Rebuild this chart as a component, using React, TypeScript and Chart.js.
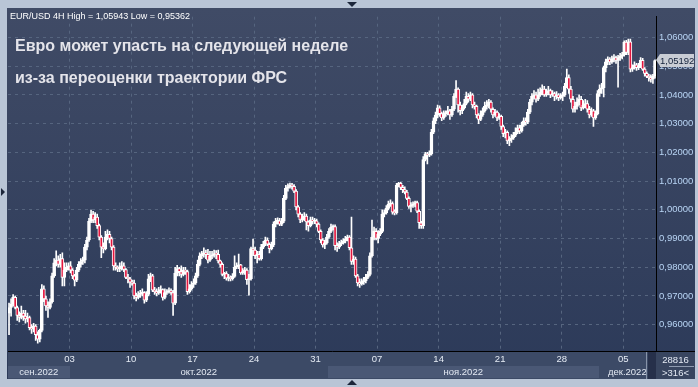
import React, { useEffect, useRef } from 'react';
import { Chart, registerables } from 'chart.js';

Chart.register(...registerables);

// ---------- data: EUR/USD 4H candles (26 Sep – 07 Dec 2022) ----------
const opens = [
  0.9640, 0.9660, 0.9672, 0.9695, 0.9660, 0.9632, 0.9625, 0.9640, 0.9630, 0.9620,
  0.9625, 0.9590, 0.9585, 0.9595, 0.9565, 0.9550, 0.9580, 0.9725, 0.9690, 0.9665,
  0.9660, 0.9680, 0.9770, 0.9815, 0.9825, 0.9810, 0.9830, 0.9765, 0.9790, 0.9800,
  0.9805, 0.9790, 0.9770, 0.9755, 0.9790, 0.9810, 0.9820, 0.9825, 0.9870, 0.9895,
  0.9960, 0.9985, 0.9965, 0.9975, 0.9945, 0.9905, 0.9870, 0.9865, 0.9905, 0.9915,
  0.9900, 0.9870, 0.9805, 0.9800, 0.9795, 0.9800, 0.9805, 0.9792, 0.9765, 0.9760,
  0.9748, 0.9745, 0.9700, 0.9695, 0.9705, 0.9710, 0.9712, 0.9685, 0.9705, 0.9760,
  0.9770, 0.9720, 0.9715, 0.9710, 0.9718, 0.9722, 0.9695, 0.9712, 0.9715, 0.9718,
  0.9712, 0.9675, 0.9780, 0.9795, 0.9785, 0.9775, 0.9790, 0.9785, 0.9715, 0.9725,
  0.9740, 0.9745, 0.9770, 0.9810, 0.9840, 0.9845, 0.9850, 0.9845, 0.9825, 0.9840,
  0.9842, 0.9848, 0.9845, 0.9822, 0.9810, 0.9775, 0.9778, 0.9762, 0.9765, 0.9760,
  0.9768, 0.9800, 0.9805, 0.9808, 0.9780, 0.9785, 0.9790, 0.9757, 0.9760, 0.9865,
  0.9860, 0.9840, 0.9845, 0.9830, 0.9870, 0.9880, 0.9895, 0.9880, 0.9865, 0.9878,
  0.9950, 0.9960, 0.9962, 0.9950, 0.9960, 1.0040, 1.0075, 1.0080, 1.0085, 1.0082,
  1.0065, 1.0010, 0.9985, 0.9965, 0.9972, 0.9978, 0.9958, 0.9945, 0.9965, 0.9960,
  0.9962, 0.9950, 0.9925, 0.9895, 0.9878, 0.9885, 0.9905, 0.9925, 0.9940, 0.9942,
  0.9875, 0.9870, 0.9882, 0.9885, 0.9892, 0.9898, 0.9905, 0.9868, 0.9820, 0.9828,
  0.9770, 0.9745, 0.9742, 0.9750, 0.9752, 0.9765, 0.9775, 0.9840, 0.9905, 0.9925,
  0.9900, 0.9915, 0.9925, 0.9985, 0.9990, 1.0005, 1.0020, 1.0022, 0.9992, 0.9990,
  1.0085, 1.0092, 1.0078, 1.0070, 1.0062, 1.0040, 1.0012, 1.0015, 1.0020, 1.0025,
  0.9995, 0.9955, 0.9945, 1.0175, 1.0195, 1.0190, 1.0195, 1.0270, 1.0310, 1.0330,
  1.0355, 1.0335, 1.0320, 1.0335, 1.0338, 1.0345, 1.0330, 1.0350, 1.0395, 1.0420,
  1.0365, 1.0345, 1.0355, 1.0370, 1.0395, 1.0385, 1.0400, 1.0365, 1.0360, 1.0330,
  1.0315, 1.0330, 1.0345, 1.0360, 1.0365, 1.0375, 1.0350, 1.0330, 1.0340, 1.0320,
  1.0325, 1.0290, 1.0265, 1.0270, 1.0240, 1.0245, 1.0250, 1.0260, 1.0270, 1.0285,
  1.0275, 1.0295, 1.0310, 1.0305, 1.0340, 1.0375, 1.0395, 1.0400, 1.0385, 1.0400,
  1.0410, 1.0420, 1.0400, 1.0405, 1.0415, 1.0400, 1.0405, 1.0395, 1.0400, 1.0390,
  1.0395, 1.0400, 1.0430, 1.0460, 1.0420, 1.0385, 1.0350, 1.0360, 1.0375, 1.0385,
  1.0355, 1.0365, 1.0370, 1.0350, 1.0330, 1.0345, 1.0320, 1.0335, 1.0405, 1.0420,
  1.0425, 1.0495, 1.0515, 1.0525, 1.0515, 1.0525, 1.0530, 1.0520, 1.0530, 1.0535,
  1.0540, 1.0584, 1.0548, 1.0585, 1.0490, 1.0495, 1.0505, 1.0495, 1.0500, 1.0520,
  1.0490, 1.0475, 1.0465, 1.0460, 1.0455, 1.0465,
];

const highs = [
  0.9675, 0.9690, 0.9705, 0.9700, 0.9665, 0.9645, 0.9665, 0.9650, 0.9650, 0.9640,
  0.9630, 0.9600, 0.9605, 0.9600, 0.9575, 0.9585, 0.9740, 0.9735, 0.9700, 0.9680,
  0.9690, 0.9780, 0.9830, 0.9857, 0.9840, 0.9845, 0.9850, 0.9815, 0.9815, 0.9815,
  0.9820, 0.9795, 0.9775, 0.9800, 0.9820, 0.9830, 0.9835, 0.9880, 0.9905, 0.9970,
  0.9999, 0.9995, 0.9990, 0.9985, 0.9950, 0.9910, 0.9885, 0.9925, 0.9930, 0.9925,
  0.9905, 0.9875, 0.9815, 0.9805, 0.9815, 0.9820, 0.9815, 0.9795, 0.9775, 0.9765,
  0.9755, 0.9755, 0.9710, 0.9715, 0.9720, 0.9725, 0.9715, 0.9715, 0.9775, 0.9780,
  0.9775, 0.9730, 0.9725, 0.9730, 0.9735, 0.9725, 0.9725, 0.9722, 0.9728, 0.9725,
  0.9720, 0.9800, 0.9807, 0.9800, 0.9805, 0.9800, 0.9800, 0.9790, 0.9740, 0.9750,
  0.9760, 0.9780, 0.9825, 0.9850, 0.9855, 0.9868, 0.9860, 0.9862, 0.9855, 0.9855,
  0.9860, 0.9858, 0.9860, 0.9825, 0.9815, 0.9782, 0.9785, 0.9775, 0.9770, 0.9778,
  0.9840, 0.9815, 0.9846, 0.9810, 0.9795, 0.9800, 0.9795, 0.9775, 0.9870, 0.9898,
  0.9870, 0.9855, 0.9855, 0.9880, 0.9890, 0.9905, 0.9902, 0.9885, 0.9888, 0.9958,
  0.9970, 0.9972, 0.9970, 0.9970, 1.0050, 1.0085, 1.0090, 1.0093, 1.0092, 1.0088,
  1.0070, 1.0015, 0.9990, 0.9985, 0.9990, 0.9985, 0.9962, 0.9975, 0.9975, 0.9970,
  0.9968, 0.9955, 0.9930, 0.9900, 0.9895, 0.9915, 0.9935, 0.9950, 0.9948, 0.9948,
  0.9885, 0.9890, 0.9895, 0.9900, 0.9908, 0.9912, 0.9910, 0.9975, 0.9840, 0.9835,
  0.9775, 0.9760, 0.9760, 0.9765, 0.9775, 0.9785, 0.9850, 0.9964, 0.9940, 0.9935,
  0.9928, 0.9935, 1.0000, 1.0000, 1.0015, 1.0030, 1.0035, 1.0028, 1.0000, 1.0092,
  1.0096, 1.0096, 1.0085, 1.0080, 1.0068, 1.0045, 1.0025, 1.0028, 1.0030, 1.0030,
  1.0000, 0.9960, 1.0185, 1.0200, 1.0200, 1.0205, 1.0280, 1.0320, 1.0340, 1.0365,
  1.0362, 1.0340, 1.0345, 1.0345, 1.0360, 1.0350, 1.0360, 1.0405, 1.0450, 1.0425,
  1.0375, 1.0365, 1.0385, 1.0410, 1.0405, 1.0410, 1.0405, 1.0375, 1.0365, 1.0335,
  1.0345, 1.0355, 1.0375, 1.0380, 1.0385, 1.0380, 1.0355, 1.0350, 1.0345, 1.0335,
  1.0330, 1.0295, 1.0280, 1.0275, 1.0255, 1.0262, 1.0270, 1.0285, 1.0295, 1.0295,
  1.0305, 1.0320, 1.0320, 1.0350, 1.0385, 1.0405, 1.0415, 1.0410, 1.0420, 1.0425,
  1.0435, 1.0430, 1.0420, 1.0430, 1.0420, 1.0415, 1.0410, 1.0412, 1.0405, 1.0405,
  1.0410, 1.0440, 1.0490, 1.0470, 1.0430, 1.0395, 1.0375, 1.0390, 1.0400, 1.0395,
  1.0380, 1.0385, 1.0380, 1.0360, 1.0355, 1.0350, 1.0345, 1.0415, 1.0435, 1.0440,
  1.0500, 1.0525, 1.0533, 1.0530, 1.0535, 1.0540, 1.0535, 1.0538, 1.0545, 1.0548,
  1.0588, 1.0590, 1.0594, 1.0594, 1.0505, 1.0515, 1.0510, 1.0510, 1.0530, 1.0527,
  1.0495, 1.0480, 1.0472, 1.0470, 1.0472, 1.0522,
];

const lows = [
  0.9565, 0.9630, 0.9665, 0.9655, 0.9615, 0.9610, 0.9620, 0.9615, 0.9605, 0.9610,
  0.9582, 0.9570, 0.9575, 0.9545, 0.9536, 0.9540, 0.9575, 0.9680, 0.9650, 0.9625,
  0.9655, 0.9675, 0.9765, 0.9805, 0.9800, 0.9800, 0.9735, 0.9735, 0.9785, 0.9790,
  0.9780, 0.9760, 0.9735, 0.9750, 0.9785, 0.9800, 0.9810, 0.9815, 0.9860, 0.9890,
  0.9955, 0.9955, 0.9955, 0.9935, 0.9895, 0.9833, 0.9850, 0.9860, 0.9895, 0.9885,
  0.9860, 0.9790, 0.9790, 0.9785, 0.9785, 0.9790, 0.9785, 0.9760, 0.9745, 0.9730,
  0.9738, 0.9690, 0.9683, 0.9690, 0.9695, 0.9700, 0.9675, 0.9680, 0.9700, 0.9750,
  0.9715, 0.9705, 0.9700, 0.9705, 0.9710, 0.9685, 0.9690, 0.9705, 0.9710, 0.9705,
  0.9632, 0.9670, 0.9770, 0.9770, 0.9765, 0.9770, 0.9775, 0.9705, 0.9710, 0.9720,
  0.9730, 0.9740, 0.9765, 0.9805, 0.9830, 0.9835, 0.9830, 0.9815, 0.9820, 0.9830,
  0.9835, 0.9830, 0.9815, 0.9800, 0.9770, 0.9760, 0.9755, 0.9752, 0.9752, 0.9755,
  0.9765, 0.9795, 0.9795, 0.9775, 0.9775, 0.9775, 0.9740, 0.9703, 0.9755, 0.9840,
  0.9830, 0.9815, 0.9825, 0.9825, 0.9865, 0.9875, 0.9875, 0.9850, 0.9860, 0.9872,
  0.9940, 0.9950, 0.9945, 0.9945, 0.9955, 1.0035, 1.0065, 1.0075, 1.0072, 1.0060,
  1.0000, 0.9975, 0.9955, 0.9958, 0.9962, 0.9930, 0.9926, 0.9940, 0.9950, 0.9952,
  0.9940, 0.9920, 0.9885, 0.9870, 0.9865, 0.9880, 0.9900, 0.9920, 0.9930, 0.9860,
  0.9855, 0.9865, 0.9875, 0.9880, 0.9885, 0.9892, 0.9860, 0.9810, 0.9810, 0.9765,
  0.9735, 0.9730, 0.9738, 0.9740, 0.9745, 0.9760, 0.9770, 0.9835, 0.9895, 0.9895,
  0.9885, 0.9910, 0.9920, 0.9975, 0.9985, 1.0000, 1.0012, 0.9985, 0.9982, 0.9985,
  1.0080, 1.0070, 1.0060, 1.0055, 1.0035, 1.0005, 0.9993, 1.0008, 1.0010, 0.9990,
  0.9935, 0.9935, 0.9935, 1.0170, 1.0160, 1.0185, 1.0190, 1.0265, 1.0300, 1.0320,
  1.0325, 1.0310, 1.0315, 1.0325, 1.0330, 1.0315, 1.0325, 1.0345, 1.0390, 1.0340,
  1.0330, 1.0335, 1.0350, 1.0365, 1.0375, 1.0380, 1.0355, 1.0350, 1.0320, 1.0300,
  1.0310, 1.0325, 1.0340, 1.0350, 1.0355, 1.0340, 1.0320, 1.0325, 1.0310, 1.0315,
  1.0280, 1.0255, 1.0250, 1.0230, 1.0223, 1.0235, 1.0245, 1.0255, 1.0265, 1.0265,
  1.0270, 1.0290, 1.0295, 1.0300, 1.0335, 1.0365, 1.0385, 1.0375, 1.0380, 1.0395,
  1.0400, 1.0395, 1.0395, 1.0400, 1.0390, 1.0395, 1.0380, 1.0385, 1.0380, 1.0385,
  1.0380, 1.0395, 1.0425, 1.0405, 1.0375, 1.0340, 1.0340, 1.0350, 1.0365, 1.0345,
  1.0350, 1.0355, 1.0340, 1.0320, 1.0325, 1.0290, 1.0315, 1.0330, 1.0395, 1.0405,
  1.0393, 1.0480, 1.0505, 1.0505, 1.0510, 1.0515, 1.0510, 1.0427, 1.0520, 1.0525,
  1.0535, 1.0540, 1.0540, 1.0480, 1.0482, 1.0490, 1.0485, 1.0488, 1.0495, 1.0485,
  1.0465, 1.0460, 1.0448, 1.0444, 1.0440, 1.0458,
];

const closes = [
  0.9660, 0.9672, 0.9695, 0.9660, 0.9632, 0.9625, 0.9640, 0.9630, 0.9620, 0.9625,
  0.9590, 0.9585, 0.9595, 0.9565, 0.9550, 0.9580, 0.9725, 0.9690, 0.9665, 0.9660,
  0.9680, 0.9770, 0.9815, 0.9825, 0.9810, 0.9830, 0.9765, 0.9790, 0.9800, 0.9805,
  0.9790, 0.9770, 0.9755, 0.9790, 0.9810, 0.9820, 0.9825, 0.9870, 0.9895, 0.9960,
  0.9985, 0.9965, 0.9975, 0.9945, 0.9905, 0.9870, 0.9865, 0.9905, 0.9915, 0.9900,
  0.9870, 0.9805, 0.9800, 0.9795, 0.9800, 0.9805, 0.9792, 0.9765, 0.9760, 0.9748,
  0.9745, 0.9700, 0.9695, 0.9705, 0.9710, 0.9712, 0.9685, 0.9705, 0.9760, 0.9770,
  0.9720, 0.9715, 0.9710, 0.9718, 0.9722, 0.9695, 0.9712, 0.9715, 0.9718, 0.9712,
  0.9675, 0.9780, 0.9795, 0.9785, 0.9775, 0.9790, 0.9785, 0.9715, 0.9725, 0.9740,
  0.9745, 0.9770, 0.9810, 0.9840, 0.9845, 0.9850, 0.9845, 0.9825, 0.9840, 0.9842,
  0.9848, 0.9845, 0.9822, 0.9810, 0.9775, 0.9778, 0.9762, 0.9765, 0.9760, 0.9768,
  0.9800, 0.9805, 0.9808, 0.9780, 0.9785, 0.9790, 0.9757, 0.9760, 0.9865, 0.9860,
  0.9840, 0.9845, 0.9830, 0.9870, 0.9880, 0.9895, 0.9880, 0.9865, 0.9878, 0.9950,
  0.9960, 0.9962, 0.9950, 0.9960, 1.0040, 1.0075, 1.0080, 1.0085, 1.0082, 1.0065,
  1.0010, 0.9985, 0.9965, 0.9972, 0.9978, 0.9958, 0.9945, 0.9965, 0.9960, 0.9962,
  0.9950, 0.9925, 0.9895, 0.9878, 0.9885, 0.9905, 0.9925, 0.9940, 0.9942, 0.9875,
  0.9870, 0.9882, 0.9885, 0.9892, 0.9898, 0.9905, 0.9868, 0.9820, 0.9828, 0.9770,
  0.9745, 0.9742, 0.9750, 0.9752, 0.9765, 0.9775, 0.9840, 0.9905, 0.9925, 0.9900,
  0.9915, 0.9925, 0.9985, 0.9990, 1.0005, 1.0020, 1.0022, 0.9992, 0.9990, 1.0085,
  1.0092, 1.0078, 1.0070, 1.0062, 1.0040, 1.0012, 1.0015, 1.0020, 1.0025, 0.9995,
  0.9955, 0.9945, 1.0175, 1.0195, 1.0190, 1.0195, 1.0270, 1.0310, 1.0330, 1.0355,
  1.0335, 1.0320, 1.0335, 1.0338, 1.0345, 1.0330, 1.0350, 1.0395, 1.0420, 1.0365,
  1.0345, 1.0355, 1.0370, 1.0395, 1.0385, 1.0400, 1.0365, 1.0360, 1.0330, 1.0315,
  1.0330, 1.0345, 1.0360, 1.0365, 1.0375, 1.0350, 1.0330, 1.0340, 1.0320, 1.0325,
  1.0290, 1.0265, 1.0270, 1.0240, 1.0245, 1.0250, 1.0260, 1.0270, 1.0285, 1.0275,
  1.0295, 1.0310, 1.0305, 1.0340, 1.0375, 1.0395, 1.0400, 1.0385, 1.0400, 1.0410,
  1.0420, 1.0400, 1.0405, 1.0415, 1.0400, 1.0405, 1.0395, 1.0400, 1.0390, 1.0395,
  1.0400, 1.0430, 1.0460, 1.0420, 1.0385, 1.0350, 1.0360, 1.0375, 1.0385, 1.0355,
  1.0365, 1.0370, 1.0350, 1.0330, 1.0345, 1.0320, 1.0335, 1.0405, 1.0420, 1.0425,
  1.0495, 1.0515, 1.0525, 1.0515, 1.0525, 1.0530, 1.0520, 1.0530, 1.0535, 1.0540,
  1.0584, 1.0548, 1.0585, 1.0490, 1.0495, 1.0505, 1.0495, 1.0500, 1.0520, 1.0490,
  1.0475, 1.0465, 1.0460, 1.0455, 1.0465, 1.05192,
];

// first candle index of each week, and the day label shown there
const weekStartIndex = [30, 60, 90, 120, 150, 180, 210, 240, 270, 300];
const weekLabels = ['03', '10', '17', '24', '31', '07', '14', '21', '28', '05'];

// first candle index of each month band
const monthStartIndex = [0, 30, 156, 288];
const monthLabels = ['сен.2022', 'окт.2022', 'ноя.2022', 'дек.2022'];

const yTicks = [0.96, 0.97, 0.98, 0.99, 1.0, 1.01, 1.02, 1.03, 1.04, 1.05, 1.06];

const headerText = 'EUR/USD 4H High = 1,05943 Low = 0,95362';
const titleLine1 = 'Евро может упасть на следующей неделе';
const titleLine2 = 'из-за переоценки траектории ФРС';
const counterTop = '28816';
const counterBottom = '>316<';

// ---------- styling ----------
const FONT = '"Liberation Sans", Arial, sans-serif';
const UP = '#ffffff';
const DOWN = '#e3163e';
const GRID = '#56657f';
const Y_MIN = 0.95084;
const Y_MAX = 1.06723;

const fmt = (v: number) => v.toFixed(5).replace('.', ',');

const monthBandsPlugin = {
  id: 'monthBands',
  beforeDraw(chart: any) {
    const { ctx, chartArea } = chart;
    const xs = chart.scales.x;
    const top = chartArea.bottom + 15;
    ctx.save();
    ctx.font = `9.5px ${FONT}`;
    ctx.textAlign = 'center';
    ctx.textBaseline = 'middle';
    monthStartIndex.forEach((s, k) => {
      const x0 = Math.max(chartArea.left, xs.getPixelForValue(s - 0.5));
      const x1 =
        k + 1 < monthStartIndex.length
          ? xs.getPixelForValue(monthStartIndex[k + 1] - 0.5)
          : chartArea.right;
      ctx.fillStyle = k % 2 === 0 ? '#4a5875' : '#3c4a66';
      ctx.fillRect(Math.round(x0), top, Math.round(x1) - Math.round(x0), 12);
      ctx.fillStyle = '#e3e9f3';
      ctx.fillText(monthLabels[k], (x0 + x1) / 2, top + 6.5);
    });
    ctx.restore();
  },
};

export default function App() {
  const canvasRef = useRef<HTMLCanvasElement>(null);
  const priceRef = useRef<HTMLDivElement>(null);
  const priceTextRef = useRef<HTMLDivElement>(null);

  useEffect(() => {
    const idx = closes.map((_, i) => i);
    const bodyData = idx.map((i) => ({ x: i, y: [opens[i], closes[i]] }));
    const wickData = idx.map((i) => ({ x: i, y: [lows[i], highs[i]] }));
    const bodyColors = idx.map((i) => (closes[i] >= opens[i] ? UP : DOWN));

    const chart = new Chart(canvasRef.current as HTMLCanvasElement, {
      type: 'bar',
      data: {
        datasets: [
          {
            data: bodyData as any,
            backgroundColor: bodyColors,
            borderColor: '#ffffff',
            borderWidth: 1,
            borderSkipped: false,
            barThickness: 3,
            minBarLength: 1,
            grouped: false,
            order: 0,
          } as any,
          {
            data: wickData as any,
            backgroundColor: '#ffffff',
            borderWidth: 0,
            barThickness: 1,
            grouped: false,
            order: 1,
          } as any,
        ],
      },
      options: {
        animation: false,
        responsive: false,
        maintainAspectRatio: false,
        layout: { padding: 0 },
        plugins: {
          legend: { display: false },
          tooltip: { enabled: false },
          title: { display: false },
        },
        scales: {
          x: {
            type: 'linear',
            min: -0.5,
            max: closes.length - 0.5,
            offset: false,
            afterBuildTicks: (s: any) => {
              s.ticks = weekStartIndex.map((v) => ({ value: v - 0.5 }));
            },
            afterFit: (s: any) => {
              s.height = 28;
            },
            ticks: {
              autoSkip: false,
              maxRotation: 0,
              minRotation: 0,
              color: '#e6ecf5',
              font: { size: 9.5, family: FONT },
              padding: 3,
              callback: (_v: any, i: number) => weekLabels[i] ?? '',
            },
            grid: { color: GRID, drawTicks: false, offset: false, lineWidth: 1 },
            border: { display: true, color: '#000000', width: 1, dash: [3, 4] },
          },
          y: {
            type: 'linear',
            position: 'right',
            min: Y_MIN,
            max: Y_MAX,
            afterBuildTicks: (s: any) => {
              s.ticks = yTicks.map((v) => ({ value: v }));
            },
            afterFit: (s: any) => {
              s.width = 39;
            },
            ticks: {
              color: '#b9d5f5',
              font: { size: 9.5, family: FONT },
              padding: 3,
              callback: (v: any) => fmt(Number(v)),
            },
            grid: { color: GRID, drawTicks: false, lineWidth: 1 },
            border: { display: true, color: '#000000', width: 1, dash: [3, 4] },
          },
        },
      } as any,
      plugins: [monthBandsPlugin],
    });

    const last = closes[closes.length - 1];
    const py = chart.scales.y.getPixelForValue(last);
    if (priceRef.current) {
      priceRef.current.style.top = `${Math.round(8 + py - 6.5)}px`;
    }
    if (priceTextRef.current) {
      priceTextRef.current.textContent = fmt(last);
    }

    return () => chart.destroy();
  }, []);

  const abs = (o: React.CSSProperties): React.CSSProperties => ({ position: 'absolute', ...o });

  return (
    <div
      style={abs({
        left: 0,
        top: 0,
        width: 698,
        height: 387,
        background: '#b9c5d6',
        overflow: 'hidden',
        fontFamily: FONT,
      })}
    >
      {/* dark panel */}
      <div
        style={abs({
          left: 7,
          top: 8,
          width: 688,
          height: 371,
          background: 'linear-gradient(#404b66, #2c3a59)',
        })}
      />
      {/* x-axis strip background */}
      <div style={abs({ left: 8, top: 352, width: 648, height: 27, background: '#3c4a66' })} />
      {/* right counter box */}
      <div style={abs({ left: 656, top: 352, width: 39, height: 27, background: '#38455f' })} />
      <div style={abs({ left: 656, top: 351, width: 39, height: 1, background: '#000' })} />

      <canvas
        ref={canvasRef}
        width={687}
        height={371}
        style={abs({ left: 8, top: 8, width: 687, height: 371 })}
      />

      {/* scroll separator near the right end of the time axis */}
      <div style={abs({ left: 646, top: 352, width: 1, height: 27, background: '#8793a8' })} />
      <div style={abs({ left: 648, top: 352, width: 8, height: 27, background: '#26304a' })} />

      {/* counter texts */}
      <div
        style={abs({
          left: 656,
          top: 354,
          width: 39,
          textAlign: 'center',
          fontSize: 9.5,
          lineHeight: '11px',
          color: '#e3e9f3',
        })}
      >
        {counterTop}
      </div>
      <div style={abs({ left: 669, top: 366, width: 25, height: 1, background: '#8f9bb0' })} />
      <div
        style={abs({
          left: 656,
          top: 367,
          width: 39,
          textAlign: 'center',
          fontSize: 9.5,
          lineHeight: '11px',
          color: '#e3e9f3',
        })}
      >
        {counterBottom}
      </div>

      {/* last price label with left arrow */}
      <div ref={priceRef} style={abs({ left: 656, top: 47, width: 39, height: 13 })}>
        <div
          style={abs({
            left: 0,
            top: 0,
            width: 0,
            height: 0,
            borderTop: '6.5px solid transparent',
            borderBottom: '6.5px solid transparent',
            borderRight: '4px solid #c9cdd5',
          })}
        />
        <div
          ref={priceTextRef}
          style={abs({
            left: 4,
            top: 0,
            width: 34,
            height: 13,
            background: '#c9cdd5',
            color: '#12203a',
            fontSize: 9.5,
            lineHeight: '13px',
            textAlign: 'center',
          })}
        />
      </div>

      {/* header and title */}
      <div
        style={abs({
          left: 10,
          top: 11,
          fontSize: 9,
          lineHeight: '10px',
          color: '#ffffff',
          whiteSpace: 'nowrap',
        })}
      >
        {headerText}
      </div>
      <div
        style={abs({
          left: 15,
          top: 36,
          fontSize: 16,
          fontWeight: 'bold',
          lineHeight: '20px',
          color: '#e4e4ea',
          whiteSpace: 'nowrap',
        })}
      >
        {titleLine1}
      </div>
      <div
        style={abs({
          left: 15,
          top: 68,
          fontSize: 16,
          fontWeight: 'bold',
          lineHeight: '20px',
          color: '#e4e4ea',
          whiteSpace: 'nowrap',
        })}
      >
        {titleLine2}
      </div>

      {/* small navigation triangles */}
      <div
        style={abs({
          left: 347,
          top: 2,
          width: 0,
          height: 0,
          borderLeft: '5px solid transparent',
          borderRight: '5px solid transparent',
          borderTop: '5px solid #1c263a',
        })}
      />
      <div
        style={abs({
          left: 347,
          top: 380,
          width: 0,
          height: 0,
          borderLeft: '5px solid transparent',
          borderRight: '5px solid transparent',
          borderBottom: '5px solid #1c263a',
        })}
      />
      <div
        style={abs({
          left: 1,
          top: 188,
          width: 0,
          height: 0,
          borderTop: '4px solid transparent',
          borderBottom: '4px solid transparent',
          borderLeft: '4px solid #1c263a',
        })}
      />
    </div>
  );
}
